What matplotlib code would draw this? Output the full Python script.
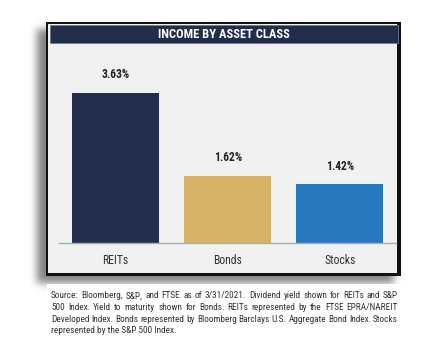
import numpy as np
import matplotlib
matplotlib.use("Agg")
import matplotlib.pyplot as plt
from matplotlib import font_manager
from matplotlib.patches import Rectangle

# ---- data ----
categories = ["REITs", "Bonds", "Stocks"]
values = [3.63, 1.62, 1.42]
value_labels = ["3.63%", "1.62%", "1.42%"]
bar_colors = ["#222e4b", "#d5b467", "#2879bb"]
title = "INCOME BY ASSET CLASS"
source_lines = [
    "Source: Bloomberg, S&P, and FTSE as of 3/31/2021. Dividend yield shown for REITs and S&P",
    "500 Index. Yield to maturity shown for Bonds. REITs represented by the FTSE EPRA/NAREIT",
    "Developed Index. Bonds represented by Bloomberg Barclays U.S. Aggregate Bond Index. Stocks",
    "represented by the S&P 500 Index.",
]


def pick_font(names):
    for n in names:
        try:
            font_manager.findfont(font_manager.FontProperties(family=n), fallback_to_default=False)
            return n
        except Exception:
            continue
    return "DejaVu Sans"


FONT = pick_font(["Liberation Sans Narrow", "Roboto Condensed", "DejaVu Sans Condensed", "DejaVu Sans"])

W, H = 439, 357
fig = plt.figure(figsize=(W / 100, H / 100), dpi=100)
fig.patch.set_facecolor("white")

# background axes in pixel coordinates
bg = fig.add_axes([0, 0, 1, 1])
bg.set_xlim(0, W)
bg.set_ylim(H, 0)
bg.axis("off")

# blurred drop shadow
yy, xx = np.mgrid[0:H, 0:W]
mask = ((xx >= 37) & (xx <= 393) & (yy >= 29) & (yy <= 282)).astype(float)
sig = 4.0
k = np.arange(-12, 13)
g = np.exp(-k ** 2 / (2 * sig ** 2))
g /= g.sum()
blur = np.apply_along_axis(lambda r: np.convolve(r, g, mode="same"), 1, mask)
blur = np.apply_along_axis(lambda c: np.convolve(c, g, mode="same"), 0, blur)
rgba = np.zeros((H, W, 4))
rgba[..., :3] = 0.35
rgba[..., 3] = blur * 0.75
bg.imshow(rgba, extent=(0, W, H, 0), zorder=1, interpolation="bilinear")

# white box behind source text
bg.add_patch(Rectangle((47, 284), 360, 60, facecolor="white", edgecolor="none", zorder=2))

# frame
bg.add_patch(Rectangle((46, 21.5), 355, 254, facecolor="#111111", edgecolor="none", zorder=3))
bg.add_patch(Rectangle((48.5, 23.5), 349, 249, facecolor="#f1f1f2", edgecolor="none", zorder=4))
# title bar
bg.add_patch(Rectangle((50, 25), 348, 18, facecolor="#222d4a", edgecolor="#6f7890", lw=0.6, zorder=5))
bg.text(224, 34.5, title, color="white", fontsize=9.0, fontweight="bold", family=FONT,
        ha="center", va="center", zorder=6)

# chart axes: baseline from x=59 to 396 px at y=243, top at y=43
ax_l, ax_r, ax_b, ax_t = 59, 396, 243, 45
ax = fig.add_axes([ax_l / W, 1 - ax_b / H, (ax_r - ax_l) / W, (ax_b - ax_t) / H])
ax.set_facecolor("none")
ax.set_zorder(10)
px_per_unit_x = 112.0
x = np.arange(len(categories))
ax.bar(x, values, width=87 / px_per_unit_x, color=bar_colors, edgecolor="none", zorder=2)
ax.set_xlim(-(115.5 - ax_l) / px_per_unit_x, 2 + (ax_r - 340) / px_per_unit_x)
px_per_unit_y = 150 / 3.63
ax.set_ylim(0, (ax_b - ax_t) / px_per_unit_y)
for s in ["top", "right", "left"]:
    ax.spines[s].set_visible(False)
ax.spines["bottom"].set_color("#a7aebb")
ax.spines["bottom"].set_linewidth(1.0)
ax.set_yticks([])
ax.set_xticks(x)
ax.set_xticklabels(categories, fontsize=8.5, family=FONT, color="#333333")
ax.tick_params(axis="x", length=0, pad=8)
for xi, v, lab in zip(x, values, value_labels):
    ax.annotate(lab, (xi, v), xytext=(0, 8.5), textcoords="offset points", ha="center",
                va="bottom", fontsize=8.3, fontweight="bold", family=FONT, color="#222222")

# justified source text
fig.canvas.draw()
renderer = fig.canvas.get_renderer()
left_px, right_px = 51, 398
avail = right_px - left_px
line_y = [296, 307.5, 319, 330.6]
fs0 = 7.4
min_gap = 2.2

# find a uniform font size that lets every justified line fit
fs = fs0
for line in source_lines[:-1]:
    words = line.split(" ")
    tmp = [bg.text(0, 0, w, fontsize=fs0, family=FONT) for w in words]
    tot = sum(t.get_window_extent(renderer).width for t in tmp)
    for t in tmp:
        t.remove()
    need = fs0 * (avail - min_gap * (len(words) - 1)) / tot
    fs = min(fs, need)

for i, (line, y) in enumerate(zip(source_lines, line_y)):
    words = line.split(" ")
    if i < len(source_lines) - 1:
        texts = [bg.text(0, y, w, fontsize=fs, family=FONT, color="#333333", va="center", ha="left", zorder=7)
                 for w in words]
        widths = [t.get_window_extent(renderer).width for t in texts]
        gap = (avail - sum(widths)) / (len(words) - 1)
        xpos = left_px
        for t, wd in zip(texts, widths):
            t.set_x(xpos)
            xpos += wd + gap
    else:
        bg.text(left_px, y, line, fontsize=fs, family=FONT, color="#333333", va="center", ha="left", zorder=7)

fig.savefig("out.png", dpi=100, facecolor="white")
